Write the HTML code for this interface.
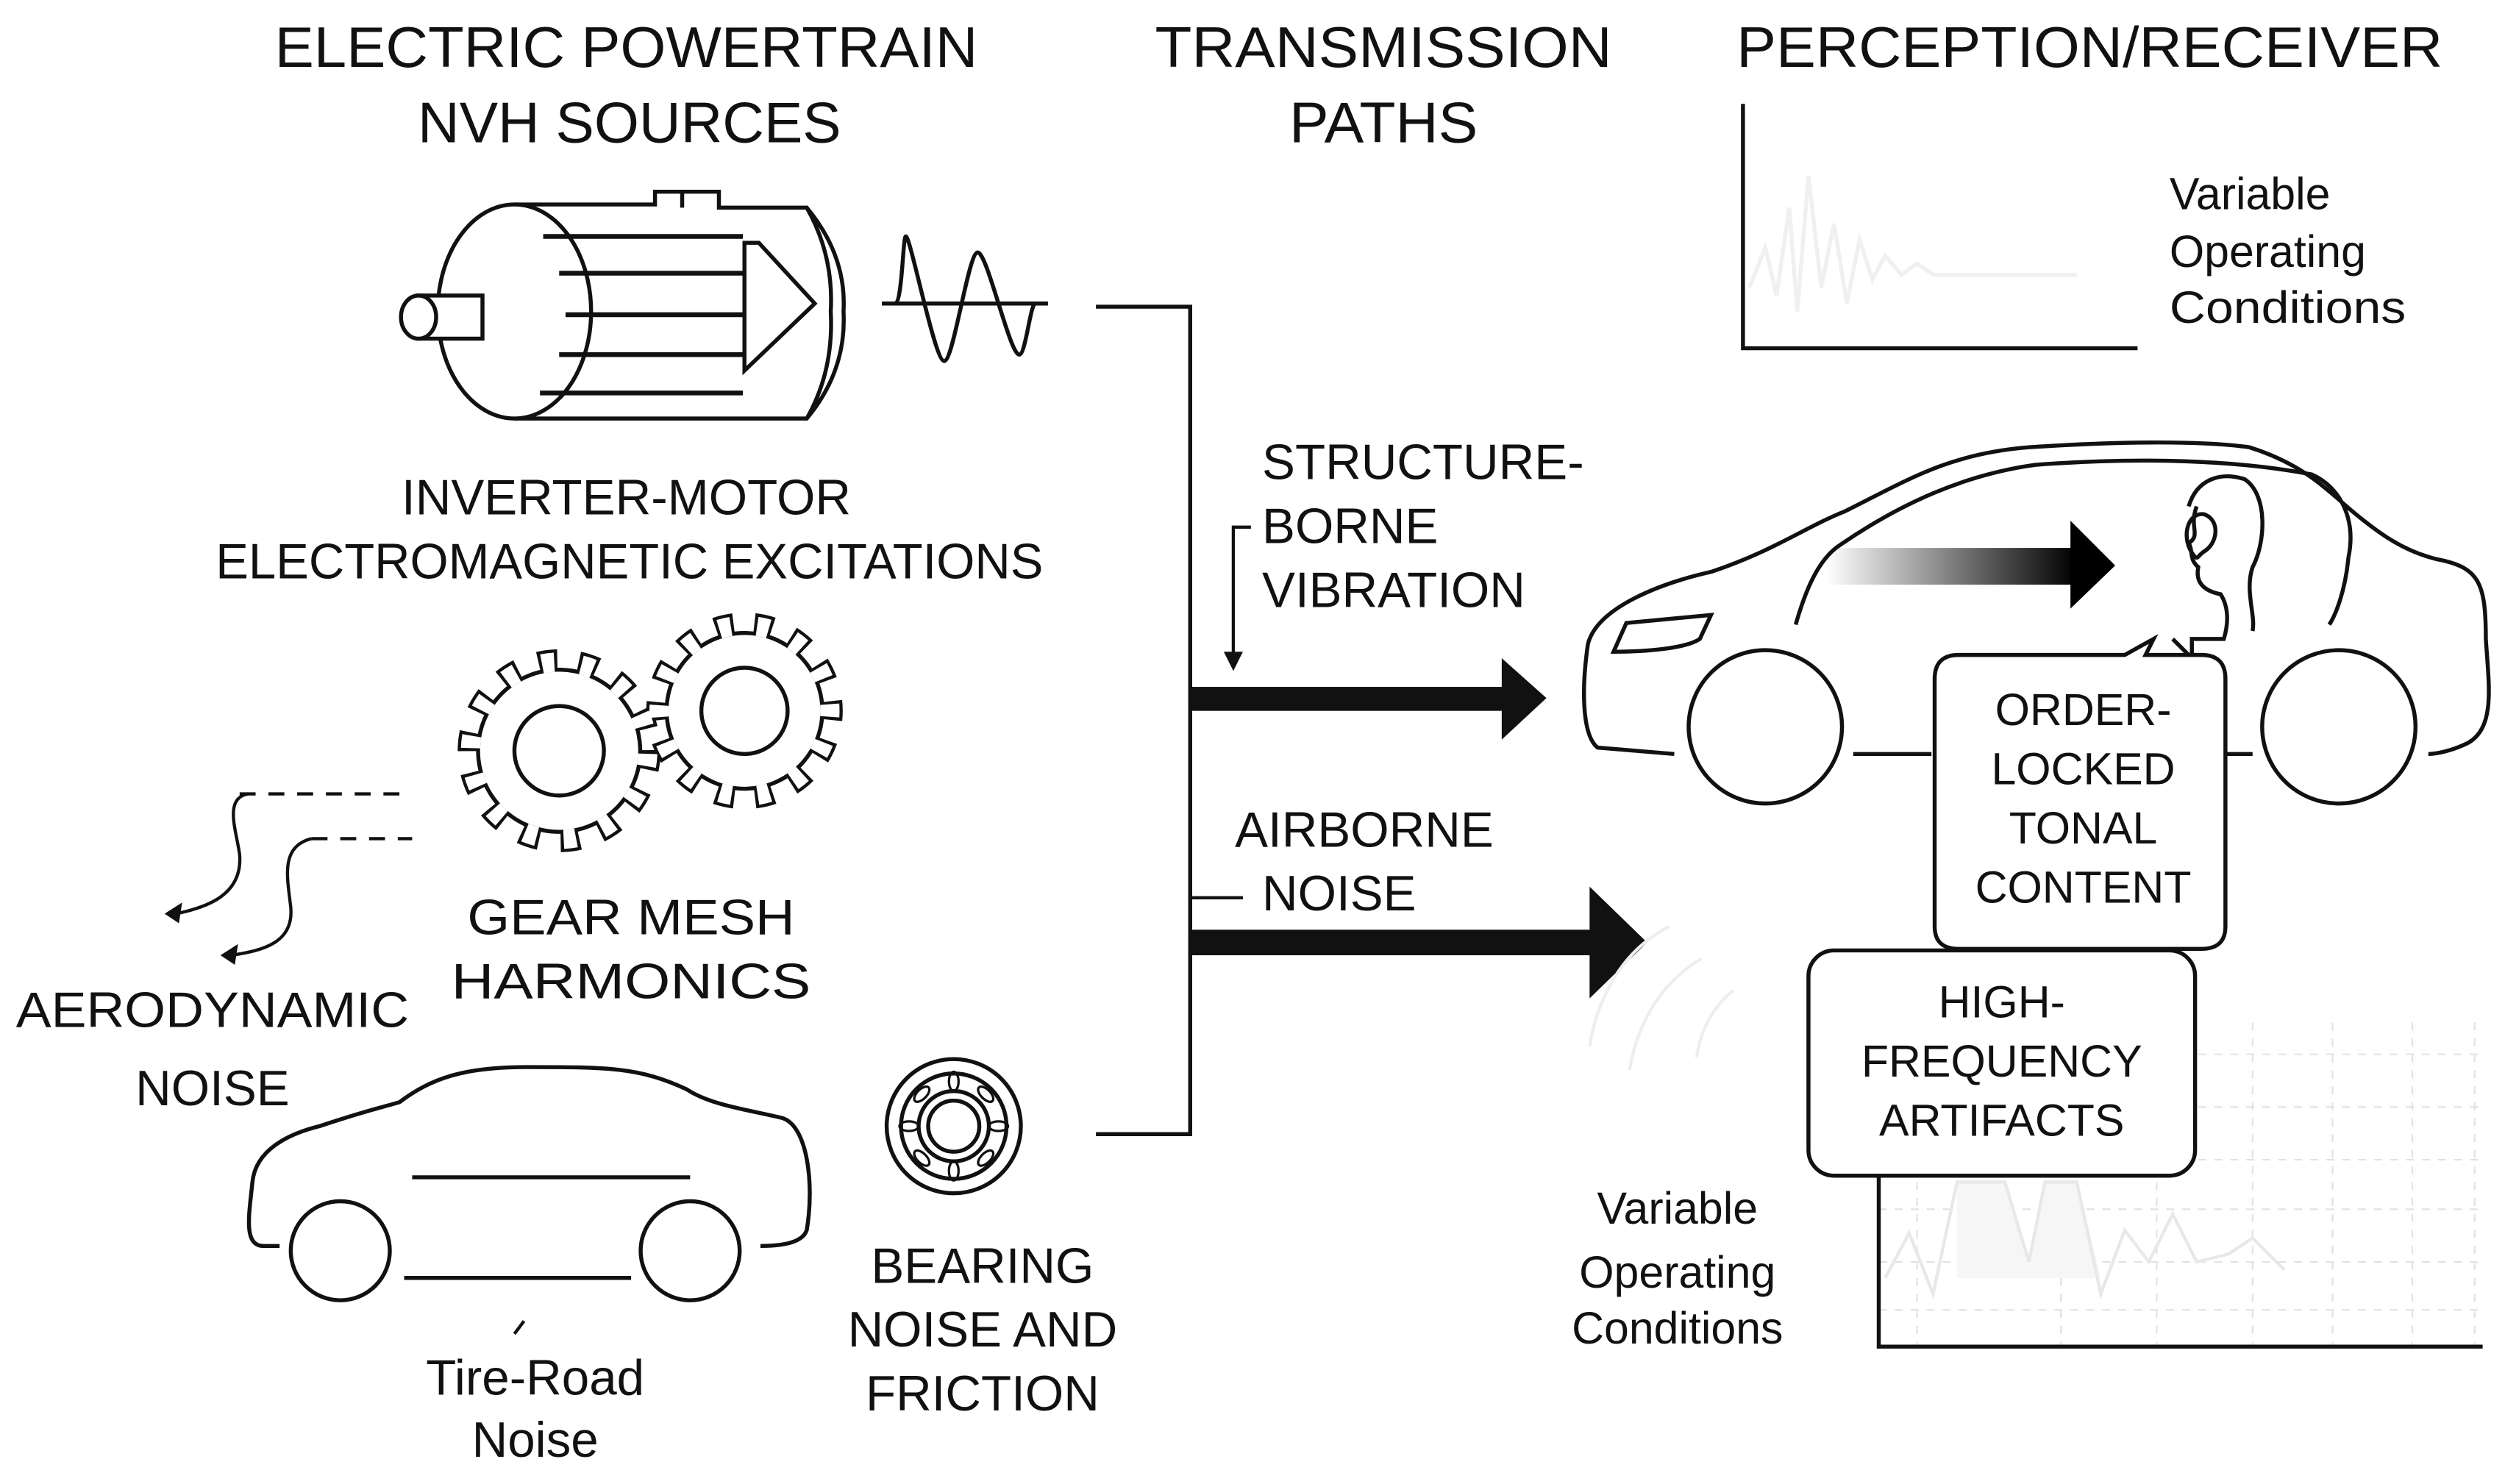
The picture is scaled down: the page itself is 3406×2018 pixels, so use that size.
<!DOCTYPE html>
<html><head><meta charset="utf-8"><style>
html,body{margin:0;padding:0;background:#fff;}
svg{display:block;}
text{font-family:"Liberation Sans",sans-serif;fill:#111;}
</style></head><body>
<svg width="3406" height="2018" viewBox="0 0 1568 929" xmlns="http://www.w3.org/2000/svg">
<defs>
<linearGradient id="ga" x1="0" x2="1" y1="0" y2="0">
<stop offset="0" stop-color="#000" stop-opacity="0"/><stop offset="1" stop-color="#000"/>
</linearGradient>
</defs>
<rect width="1568" height="929" fill="#fff"/>
<g font-size="36" text-anchor="middle">
<text x="392" y="42" textLength="440" lengthAdjust="spacingAndGlyphs">ELECTRIC POWERTRAIN</text>
<text x="394" y="89" textLength="265" lengthAdjust="spacingAndGlyphs">NVH SOURCES</text>
<text x="866" y="42" textLength="286" lengthAdjust="spacingAndGlyphs">TRANSMISSION</text>
<text x="866" y="89" textLength="118" lengthAdjust="spacingAndGlyphs">PATHS</text>
<text x="1308" y="42" textLength="442" lengthAdjust="spacingAndGlyphs">PERCEPTION/RECEIVER</text>
</g>
<!-- motor -->
<g fill="none" stroke="#111" stroke-width="2.5">
<path d="M322 128 L410 128 L410 120 L450 120 L450 130 L505 130 Q530 160 528 195 Q530 232 505 262 L322 262"/>
<path d="M505 130 Q522 160 520 195 Q522 232 505 262"/>
<line x1="427" y1="120" x2="427" y2="130"/>
<ellipse cx="322" cy="195" rx="48" ry="67" fill="#fff"/>
<path d="M340 148 L465 148 M350 171 L465 171 M354 197 L465 197 M350 222 L465 222 M338 246 L465 246" stroke-width="3"/>
<path d="M466 152 L475 152 L510 190 L466 232 Z" fill="#fff"/>
<rect x="262" y="185" width="40" height="27" fill="#fff"/>
<ellipse cx="262" cy="198.5" rx="11" ry="13.5" fill="#fff"/>
<path d="M552 190 L656 190 M686 192 L745 192 L745 710 L686 710"/>
<path d="M560 190 C565 190 565 148 567 148 C570 148 585 226 591 226 C597 226 606 158 612 158 C618 158 632 222 638 222 C642 222 645 190 648 190"/>
</g>
<g font-size="31" text-anchor="middle">
<text x="392" y="322">INVERTER-MOTOR</text>
<text x="394" y="362" textLength="518" lengthAdjust="spacingAndGlyphs">ELECTROMAGNETIC EXCITATIONS</text>
<text x="395" y="585" textLength="205" lengthAdjust="spacingAndGlyphs">GEAR MESH</text>
<text x="395" y="625" textLength="225" lengthAdjust="spacingAndGlyphs">HARMONICS</text>
<text x="133" y="643" textLength="246" lengthAdjust="spacingAndGlyphs">AERODYNAMIC</text>
<text x="133" y="692">NOISE</text>
<text x="615" y="803">BEARING</text>
<text x="615" y="843">NOISE AND</text>
<text x="615" y="883">FRICTION</text>
<text x="335" y="873">Tire-Road</text>
<text x="335" y="912">Noise</text>
</g>
<!-- gears -->
<g>
<circle cx="350" cy="470" r="52" fill="#111"/>
<circle cx="350" cy="470" r="57" fill="none" stroke="#111" stroke-width="13" pathLength="360" stroke-dasharray="12 13.714"/>
<circle cx="466" cy="445" r="50" fill="#111"/>
<circle cx="466" cy="445" r="55" fill="none" stroke="#111" stroke-width="13" pathLength="360" stroke-dasharray="12 13.714" stroke-dashoffset="6"/>
<circle cx="350" cy="470" r="49.5" fill="#fff"/>
<circle cx="350" cy="470" r="55.5" fill="none" stroke="#fff" stroke-width="12" pathLength="360" stroke-dasharray="8 17.714" stroke-dashoffset="-2"/>
<circle cx="466" cy="445" r="47.5" fill="#fff"/>
<circle cx="466" cy="445" r="53.5" fill="none" stroke="#fff" stroke-width="12" pathLength="360" stroke-dasharray="8 17.714" stroke-dashoffset="4"/>
<circle cx="350" cy="470" r="28" fill="none" stroke="#111" stroke-width="2.5"/>
<circle cx="466" cy="445" r="27" fill="none" stroke="#111" stroke-width="2.5"/>
</g>
<g fill="none" stroke="#111">
<path d="M150 497 L258 497 M195 525 L258 525" stroke-width="2" stroke-dasharray="10 8"/>
<path d="M155 497 C140 500 148 520 150 535 C152 560 130 568 110 572" stroke-width="2"/>
<path d="M195 525 C175 530 180 550 182 568 C184 590 165 595 145 598" stroke-width="2"/>
</g>
<path d="M103 572 L114 565 L112 578 Z M138 598 L149 591 L147 604 Z" fill="#111"/>
<line x1="322" y1="835" x2="328" y2="827" stroke="#111" stroke-width="2"/>
<!-- small car -->
<g fill="none" stroke="#111" stroke-width="2.5">
<path d="M175 780 L165 780 C152 780 156 760 158 740 C160 720 180 710 200 705 C230 695 240 693 250 690 C270 675 290 668 330 668 C380 668 400 668 430 682 C445 692 470 695 490 700 C505 705 510 740 505 770 C503 776 495 780 476 780"/>
<line x1="258" y1="737" x2="432" y2="737"/>
<line x1="253" y1="800" x2="395" y2="800"/>
<circle cx="213" cy="783" r="31"/>
<circle cx="432" cy="783" r="31"/>
<!-- bearing -->
<circle cx="597" cy="705" r="42"/>
<circle cx="597" cy="705" r="33"/>
<circle cx="597" cy="705" r="22"/>
<circle cx="597" cy="705" r="16"/>
<g stroke-width="1.5">
<ellipse cx="597" cy="677" rx="3" ry="6"/><ellipse cx="597" cy="733" rx="3" ry="6"/>
<ellipse cx="569" cy="705" rx="6" ry="3"/><ellipse cx="625" cy="705" rx="6" ry="3"/>
<ellipse cx="577" cy="685" rx="3" ry="6" transform="rotate(45 577 685)"/><ellipse cx="617" cy="725" rx="3" ry="6" transform="rotate(45 617 725)"/>
<ellipse cx="617" cy="685" rx="3" ry="6" transform="rotate(-45 617 685)"/><ellipse cx="577" cy="725" rx="3" ry="6" transform="rotate(-45 577 725)"/>
</g>
</g>
<!-- transmission -->
<g font-size="31">
<text x="790" y="300">STRUCTURE-</text>
<text x="790" y="340">BORNE</text>
<text x="790" y="380">VIBRATION</text>
<text x="773" y="530">AIRBORNE</text>
<text x="790" y="570">NOISE</text>
</g>
<path d="M783 330 L772 330 L772 412" fill="none" stroke="#111" stroke-width="2"/>
<path d="M766 408 L778 408 L772 420 Z" fill="#111"/>
<line x1="745" y1="562" x2="778" y2="562" stroke="#111" stroke-width="2"/>
<rect x="745" y="430" width="197" height="15" fill="#111"/>
<path d="M940 412 L968 437 L940 463 Z" fill="#111"/>
<rect x="745" y="582" width="252" height="16" fill="#111"/>
<path d="M995 555 L1031 590 L995 625 Z" fill="#111"/>
<!-- top right chart -->
<g fill="none">
<path d="M1091 65 L1091 218 L1338 218" stroke="#111" stroke-width="2.5"/>
<path d="M1095 180 L1105 155 L1112 185 L1120 130 L1125 195 L1132 110 L1140 180 L1148 140 L1156 190 L1164 150 L1172 175 L1180 160 L1190 172 L1200 165 L1210 172 L1250 172 L1300 172" stroke="#f0f0f0" stroke-width="2.5"/>
</g>
<g font-size="28">
<text x="1358" y="131">Variable</text>
<text x="1358" y="167">Operating</text>
<text x="1358" y="202" textLength="148" lengthAdjust="spacingAndGlyphs">Conditions</text>
<text x="1050" y="766" text-anchor="middle">Variable</text>
<text x="1050" y="806" text-anchor="middle">Operating</text>
<text x="1050" y="841" text-anchor="middle">Conditions</text>
</g>
<!-- big car -->
<g fill="none" stroke="#111" stroke-width="2.5">
<path d="M1048 472 L1000 468 C990 460 990 430 994 403 C1000 380 1040 365 1071 358 C1110 345 1130 330 1155 320 C1195 300 1220 284 1270 280 C1330 276 1380 276 1408 280 C1440 290 1455 305 1470 318 C1490 335 1505 345 1525 350 C1552 355 1556 365 1556 400 C1558 430 1562 455 1545 465 C1535 470 1525 472 1520 472"/>
<path d="M1160 472 L1209 472 M1393 472 L1410 472"/>
<path d="M1124 391 C1130 370 1138 350 1152 341 C1190 315 1230 297 1274 291 C1340 286 1400 288 1447 297 C1465 305 1475 325 1470 349 C1468 370 1462 385 1458 391"/>
<path d="M1010 408 L1018 390 L1071 385 L1064 400 C1055 406 1030 408 1010 408 Z"/>
<circle cx="1105" cy="455" r="48"/>
<circle cx="1464" cy="455" r="48"/>
<path d="M1370 317 C1375 300 1390 295 1405 300 C1420 310 1418 340 1410 355 C1405 370 1412 385 1410 395 M1375 317 C1370 330 1378 335 1370 340 C1373 345 1370 350 1376 355 C1374 365 1380 370 1390 372 C1395 380 1395 390 1392 400 L1372 400 L1372 412 L1360 400"/>
<path d="M1372 346 C1365 335 1370 320 1380 322 C1390 326 1388 340 1380 345 C1375 348 1376 352 1372 346"/>
</g>
<rect x="1143" y="343" width="156" height="23" fill="url(#ga)"/>
<path d="M1296 326 L1324 354 L1296 381 Z" fill="#000"/>
<!-- faint arcs -->
<g fill="none" stroke="#eee" stroke-width="2">
<path d="M1045 580 C1015 595 1000 625 995 655"/>
<path d="M1065 600 C1040 615 1025 640 1020 670"/>
<path d="M1085 620 C1070 632 1064 648 1062 662"/>
</g>
<!-- bottom chart -->
<g fill="none">
<g stroke="#e2e2e2" stroke-width="1" stroke-dasharray="5 5">
<path d="M1176 660 L1554 660 M1176 693 L1554 693 M1176 726 L1554 726 M1176 757 L1554 757 M1176 790 L1554 790 M1176 820 L1554 820"/>
<path d="M1200 640 L1200 842 M1290 640 L1290 842 M1350 640 L1350 842 M1410 640 L1410 842 M1460 640 L1460 842 M1510 640 L1510 842 M1549 640 L1549 842"/>
</g>
<path d="M1225 740 L1255 740 L1270 790 L1280 740 L1300 740 L1315 800 L1225 800 Z" fill="#f6f6f6" stroke="none"/>
<path d="M1180 800 L1195 772 L1210 810 L1225 740 L1255 740 L1270 790 L1280 740 L1300 740 L1315 810 L1330 770 L1345 790 L1360 760 L1375 790 L1395 785 L1410 775 L1430 795" stroke="#e8e8e8" stroke-width="2"/>
<path d="M1176 736 L1176 843 L1554 843" stroke="#111" stroke-width="2.5"/>
</g>
<!-- boxes -->
<g fill="#fff" stroke="#111" stroke-width="2.5">
<path d="M1226 410 L1330 410 L1348 400 L1343 410 L1378 410 Q1393 410 1393 425 L1393 580 Q1393 594 1378 594 L1226 594 Q1211 594 1211 580 L1211 425 Q1211 410 1226 410 Z"/>
<rect x="1132" y="595" width="242" height="141" rx="16"/>
</g>
<g font-size="28" text-anchor="middle">
<text x="1304" y="454">ORDER-</text>
<text x="1304" y="491">LOCKED</text>
<text x="1304" y="528">TONAL</text>
<text x="1304" y="565">CONTENT</text>
<text x="1253" y="637">HIGH-</text>
<text x="1253" y="674">FREQUENCY</text>
<text x="1253" y="711">ARTIFACTS</text>
</g>
</svg>
</body></html>
